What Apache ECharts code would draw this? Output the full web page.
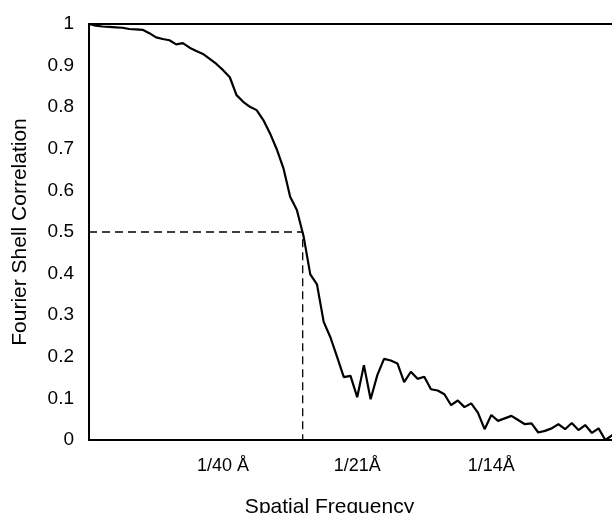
<!DOCTYPE html>
<html>
<head>
<meta charset="utf-8">
<script src="https://cdn.jsdelivr.net/npm/echarts@6/dist/echarts.min.js"></script>
<style>
  html, body { margin: 0; padding: 0; background: #fff; }
  #chart { width: 612px; height: 513px; }
</style>
</head>
<body>
<div id="chart"></div>
<script>
// shell index (x) -> FSC value
var fsc = [
  1.0, 0.996, 0.994, 0.993, 0.992, 0.991, 0.988, 0.987, 0.986, 0.978,
  0.968, 0.964, 0.961, 0.951, 0.954, 0.943, 0.935, 0.928, 0.916, 0.904,
  0.889, 0.872, 0.829, 0.813, 0.801, 0.793, 0.769, 0.737, 0.699, 0.653,
  0.585, 0.553, 0.49, 0.398, 0.374, 0.284, 0.247, 0.2, 0.151, 0.154,
  0.103, 0.18, 0.098, 0.156, 0.195, 0.191, 0.184, 0.139, 0.164, 0.147,
  0.152, 0.122, 0.119, 0.11, 0.084, 0.095, 0.079, 0.088, 0.066, 0.026,
  0.06, 0.046, 0.052, 0.058, 0.048, 0.038, 0.04, 0.018, 0.022, 0.028,
  0.038, 0.026, 0.041, 0.024, 0.036, 0.017, 0.028, 0.0, 0.011, 0.03
];

// resolution cut-off at FSC = 0.5
var cutoffShell = 31.87;
var cutoffValue = 0.5;

var tickShells = [20, 40, 60];
var tickLabels = ['1/40 Å', '1/21Å', '1/14Å'];

var chart = echarts.init(document.getElementById('chart'));

var lineData = fsc.map(function (v, i) { return [i, v]; });
var cutoffData = [[0, cutoffValue], [cutoffShell, cutoffValue], [cutoffShell, 0]];

var font = 'Liberation Sans, Arial, sans-serif';

var option = {
  animation: false,
  grid: {
    left: 89,
    right: 0,
    top: 24,
    bottom: 73,
    containLabel: false,
    outerBoundsMode: 'none'
  },
  xAxis: [{
    type: 'value',
    min: 0,
    max: 78,
    interval: 20,
    position: 'bottom',
    name: 'Spatial Frequency',
    nameLocation: 'middle',
    nameGap: 57,
    // the title sits a bit left of the plot centre
    nameTextStyle: { color: '#000', fontSize: 21, fontFamily: font, padding: [0, 42, 0, 0] },
    axisLine: { lineStyle: { color: '#000', width: 2 } },
    axisTick: { show: false },
    splitLine: { show: false },
    axisLabel: {
      color: '#000',
      fontSize: 18,
      fontFamily: font,
      margin: 17,
      showMaxLabel: false,
      formatter: function (val) {
        var k = tickShells.indexOf(val);
        return k >= 0 ? tickLabels[k] : '';
      }
    }
  }, {
    type: 'value',
    min: 0,
    max: 78,
    position: 'top',
    axisLine: { lineStyle: { color: '#000', width: 2 } },
    axisTick: { show: false },
    axisLabel: { show: false },
    splitLine: { show: false }
  }],
  yAxis: {
    type: 'value',
    min: 0,
    max: 1,
    interval: 0.1,
    name: 'Fourier Shell Correlation',
    nameLocation: 'middle',
    nameGap: 58,
    nameTextStyle: { color: '#000', fontSize: 21, fontFamily: font },
    axisLine: { show: true, lineStyle: { color: '#000', width: 2 } },
    axisTick: { show: false },
    splitLine: { show: false },
    axisLabel: {
      color: '#000',
      fontSize: 19,
      fontFamily: font,
      margin: 15
    }
  },
  series: [{
    type: 'line',
    data: lineData,
    showSymbol: false,
    clip: true,
    lineStyle: { color: '#000', width: 2.2 }
  }, {
    type: 'line',
    data: cutoffData,
    showSymbol: false,
    lineStyle: { color: '#000', width: 1.3, type: [8, 5] }
  }]
};

chart.setOption(option);
</script>
</body>
</html>
